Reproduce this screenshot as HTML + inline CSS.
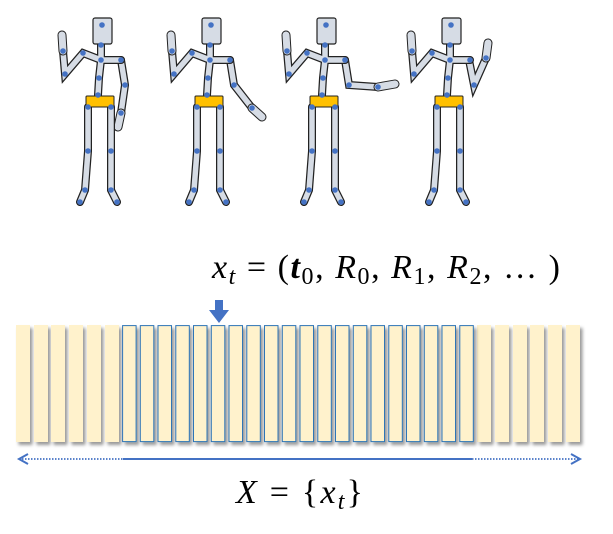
<!DOCTYPE html>
<html><head><style>body{margin:0;background:#fff;width:613px;height:529px;overflow:hidden}</style></head>
<body>
<svg width="613" height="529" xmlns="http://www.w3.org/2000/svg">
<defs>
<filter id="sh" x="-30%" y="-10%" width="180%" height="130%"><feDropShadow dx="2.5" dy="3" stdDeviation="1.6" flood-color="#000" flood-opacity="0.4"/></filter>
<g id="body">
 <g stroke="#222" stroke-width="8" stroke-linecap="round" fill="none">
  <polyline points="63,51 65,74 83,53 101,60 121,60"/>
  <polyline points="101,45 101,60 99,78 98,95"/>
  <polyline points="88,107 88,151 85,190 80,202"/>
  <polyline points="111,107 111,151 111,190 117,202"/>
 </g>
 <g stroke="#d6dce5" stroke-width="5.5" stroke-linecap="round" fill="none">
  <polyline points="63,51 65,74 83,53 101,60 121,60"/>
  <polyline points="101,45 101,60 99,78 98,95"/>
  <polyline points="88,107 88,151 85,190 80,202"/>
  <polyline points="111,107 111,151 111,190 117,202"/>
 </g>
 <line x1="63" y1="51" x2="62" y2="35" stroke="#222" stroke-width="9" stroke-linecap="round"/>
 <line x1="63" y1="51" x2="62" y2="35" stroke="#d6dce5" stroke-width="7" stroke-linecap="round"/>
 <rect x="93" y="18" width="19" height="26" rx="2" fill="#d6dce5" stroke="#222" stroke-width="1.2"/>
 <rect x="86" y="96" width="28" height="11" rx="1" fill="#ffc000" stroke="#222" stroke-width="1"/>
 <g fill="#4472c4">
  <circle cx="102" cy="25" r="2.8"/><circle cx="101" cy="45" r="2.8"/><circle cx="101" cy="60" r="2.8"/>
  <circle cx="83" cy="53" r="2.8"/><circle cx="65" cy="74" r="2.8"/><circle cx="63" cy="51" r="2.8"/>
  <circle cx="121" cy="60" r="2.8"/><circle cx="99" cy="78" r="2.8"/><circle cx="98" cy="95" r="2.8"/>
  <circle cx="88" cy="107" r="2.8"/><circle cx="111" cy="107" r="2.8"/><circle cx="88" cy="151" r="2.8"/>
  <circle cx="111" cy="151" r="2.8"/><circle cx="85" cy="190" r="2.8"/><circle cx="111" cy="190" r="2.8"/>
  <circle cx="80" cy="202" r="2.8"/><circle cx="117" cy="202" r="2.8"/>
 </g>
</g>
</defs>
<g>
 <polyline points="121,60 125,85 121,113" stroke="#222" stroke-width="8" stroke-linecap="round" fill="none"/>
 <polyline points="121,60 125,85 121,113" stroke="#d6dce5" stroke-width="5.5" stroke-linecap="round" fill="none"/>
 <line x1="121" y1="113" x2="118" y2="127" stroke="#222" stroke-width="9" stroke-linecap="round"/>
 <line x1="121" y1="113" x2="118" y2="127" stroke="#d6dce5" stroke-width="7" stroke-linecap="round"/>
 <use href="#body"/>
 <circle cx="125" cy="85" r="2.8" fill="#4472c4"/><circle cx="121" cy="113" r="2.8" fill="#4472c4"/>
</g>
<g transform="translate(109,0)">
 <polyline points="121,60 125,85 143,108" stroke="#222" stroke-width="8" stroke-linecap="round" fill="none"/>
 <polyline points="121,60 125,85 143,108" stroke="#d6dce5" stroke-width="5.5" stroke-linecap="round" fill="none"/>
 <line x1="143" y1="108" x2="153" y2="117" stroke="#222" stroke-width="9" stroke-linecap="round"/>
 <line x1="143" y1="108" x2="153" y2="117" stroke="#d6dce5" stroke-width="7" stroke-linecap="round"/>
 <use href="#body"/>
 <circle cx="125" cy="85" r="2.8" fill="#4472c4"/><circle cx="143" cy="108" r="2.8" fill="#4472c4"/>
</g>
<g transform="translate(224,0)">
 <polyline points="121,60 125,85 154,87" stroke="#222" stroke-width="8" stroke-linecap="round" fill="none"/>
 <polyline points="121,60 125,85 154,87" stroke="#d6dce5" stroke-width="5.5" stroke-linecap="round" fill="none"/>
 <line x1="154" y1="87" x2="171" y2="84" stroke="#222" stroke-width="9" stroke-linecap="round"/>
 <line x1="154" y1="87" x2="171" y2="84" stroke="#d6dce5" stroke-width="7" stroke-linecap="round"/>
 <use href="#body"/>
 <circle cx="125" cy="85" r="2.8" fill="#4472c4"/><circle cx="154" cy="87" r="2.8" fill="#4472c4"/>
</g>
<g transform="translate(349,0)">
 <polyline points="120,60 125,85 137,58" stroke="#222" stroke-width="8" stroke-linecap="round" fill="none"/>
 <polyline points="120,60 125,85 137,58" stroke="#d6dce5" stroke-width="5.5" stroke-linecap="round" fill="none"/>
 <line x1="137" y1="58" x2="139" y2="43" stroke="#222" stroke-width="9" stroke-linecap="round"/>
 <line x1="137" y1="58" x2="139" y2="43" stroke="#d6dce5" stroke-width="7" stroke-linecap="round"/>
 <use href="#body"/>
 <circle cx="125" cy="85" r="2.8" fill="#4472c4"/><circle cx="137" cy="58" r="2.8" fill="#4472c4"/>
</g>

<text x="212" y="278" font-family="Liberation Serif, serif" font-size="34" fill="#000" textLength="348" lengthAdjust="spacing"><tspan font-style="italic">x</tspan><tspan font-style="italic" font-size="24" dy="6">t</tspan><tspan dy="-6"> = (</tspan><tspan font-style="italic" font-weight="bold">t</tspan><tspan font-size="24" dy="6">0</tspan><tspan dy="-6">, </tspan><tspan font-style="italic">R</tspan><tspan font-size="24" dy="6">0</tspan><tspan dy="-6">, </tspan><tspan font-style="italic">R</tspan><tspan font-size="24" dy="6">1</tspan><tspan dy="-6">, </tspan><tspan font-style="italic">R</tspan><tspan font-size="24" dy="6">2</tspan><tspan dy="-6">, … )</tspan></text>

<polygon points="215,300 223,300 223,310 229,310 219,323 209,310 215,310" fill="#4472c4"/>

<g filter="url(#sh)" fill="#fff2cc">
<rect x="16" y="325" width="14" height="117"/><rect x="34" y="325" width="14" height="117"/><rect x="51" y="325" width="14" height="117"/><rect x="69" y="325" width="14" height="117"/><rect x="87" y="325" width="14" height="117"/><rect x="105" y="325" width="14" height="117"/>
<rect x="477" y="325" width="14" height="117"/><rect x="495" y="325" width="14" height="117"/><rect x="513" y="325" width="14" height="117"/><rect x="530" y="325" width="14" height="117"/><rect x="548" y="325" width="14" height="117"/><rect x="566" y="325" width="14" height="117"/>
</g>
<g filter="url(#sh)" fill="#fff2cc" stroke="#2e75b6" stroke-width="1">
<rect x="122.6" y="325.6" width="13.5" height="116"/><rect x="140.3" y="325.6" width="13.5" height="116"/><rect x="158" y="325.6" width="13.5" height="116"/><rect x="175.8" y="325.6" width="13.5" height="116"/><rect x="193.5" y="325.6" width="13.5" height="116"/><rect x="211.3" y="325.6" width="13.5" height="116"/><rect x="229" y="325.6" width="13.5" height="116"/><rect x="246.8" y="325.6" width="13.5" height="116"/><rect x="264.5" y="325.6" width="13.5" height="116"/><rect x="282.3" y="325.6" width="13.5" height="116"/><rect x="300" y="325.6" width="13.5" height="116"/><rect x="317.8" y="325.6" width="13.5" height="116"/><rect x="335.5" y="325.6" width="13.5" height="116"/><rect x="353.3" y="325.6" width="13.5" height="116"/><rect x="371" y="325.6" width="13.5" height="116"/><rect x="388.8" y="325.6" width="13.5" height="116"/><rect x="406.5" y="325.6" width="13.5" height="116"/><rect x="424.3" y="325.6" width="13.5" height="116"/><rect x="442" y="325.6" width="13.5" height="116"/><rect x="459.8" y="325.6" width="13.5" height="116"/>
</g>

<line x1="22" y1="459" x2="123" y2="459" stroke="#4472c4" stroke-width="1.8" stroke-dasharray="1.5,1.5"/>
<line x1="123" y1="459" x2="472" y2="459" stroke="#4472c4" stroke-width="2"/>
<line x1="472" y1="459" x2="578" y2="459" stroke="#4472c4" stroke-width="1.8" stroke-dasharray="1.5,1.5"/>
<polyline points="28,454 19,459 28,464" fill="none" stroke="#4472c4" stroke-width="2"/>
<polyline points="571,454 580,459 571,464" fill="none" stroke="#4472c4" stroke-width="2"/>

<text x="236" y="503" font-family="Liberation Serif, serif" font-size="34" fill="#000" textLength="127" lengthAdjust="spacing"><tspan font-style="italic">X</tspan><tspan> = {</tspan><tspan font-style="italic">x</tspan><tspan font-style="italic" font-size="24" dy="6">t</tspan><tspan dy="-6">}</tspan></text>
</svg>
</body></html>
